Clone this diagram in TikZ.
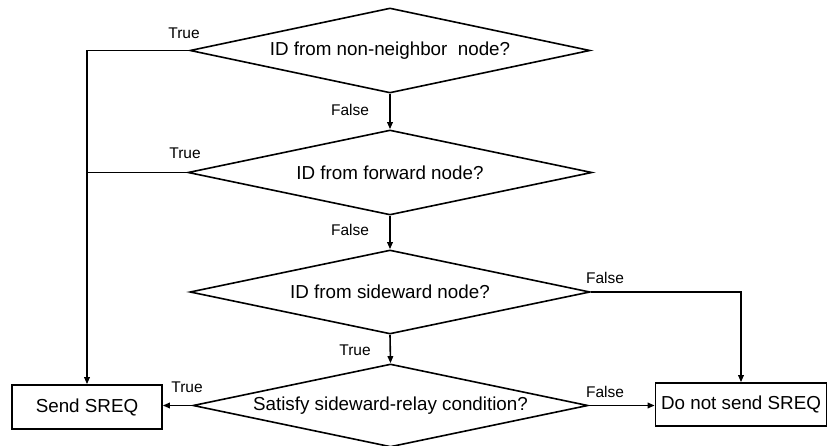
\documentclass[tikz,border=0pt]{standalone}
\usepackage{fontspec}
\setmainfont{Liberation Sans}
\usetikzlibrary{shapes.geometric,arrows.meta}
\begin{document}
\begin{tikzpicture}[x=1pt,y=-1pt,
  line width=1.6pt,
  dec/.style={draw,shape=diamond,inner sep=0pt,aspect=4.7,font=\fontsize{18.8}{22}\selectfont},
  actbox/.style={draw,rectangle,inner sep=0pt,font=\fontsize{18.8}{22}\selectfont},
  lbl/.style={inner sep=0pt,font=\fontsize{15.5}{18}\selectfont},
  arr/.style={-{Triangle[length=7pt,width=5.5pt]}}]
\useasboundingbox[fill=white] (0,0) rectangle (828,446);
\node[dec,minimum width=400pt,minimum height=85pt] (d1) at (390,50.5) {ID from non-neighbor\ \ node?};
\node[dec,minimum width=404pt,minimum height=85pt] (d2) at (390,172.5) {ID from forward node?};
\node[dec,minimum width=400pt,minimum height=84pt] (d3) at (390,292) {ID from sideward node?};
\node[dec,minimum width=395pt,minimum height=83pt] (d4) at (390.5,405.5) {Satisfy sideward-relay condition?};
\node[actbox,minimum width=150pt,minimum height=44pt] (send) at (87,407) {Send SREQ};
\node[actbox,minimum width=171pt,minimum height=43pt] (dns) at (741,404.5) {Do not send SREQ};
\node[lbl] (t1) at (184,33) {True};
\node[lbl] (t2) at (185,153) {True};
\node[lbl] (f1) at (350,110) {False};
\node[lbl] (f2) at (350,230) {False};
\node[lbl] (t3) at (355,350) {True};
\node[lbl] (t4) at (187,387) {True};
\node[lbl] (f3) at (605,278) {False};
\node[lbl] (f4) at (605,392) {False};
\draw[arr] (d1.south) -- (d2.north);
\draw[arr] (d2.south) -- (d3.north);
\draw[arr] (d3.south) -- (d4.north);
\draw[arr] (d1.west) -| (send.north);
\draw (d2.west) -- (d2.west -| send.north);
\draw[arr] (d4.west) -- (d4.west -| send.east);
\draw[arr] (d3.east) -| (dns.north);
\draw[arr] (d4.east) -- (d4.east -| dns.west);
\end{tikzpicture}
\end{document}
